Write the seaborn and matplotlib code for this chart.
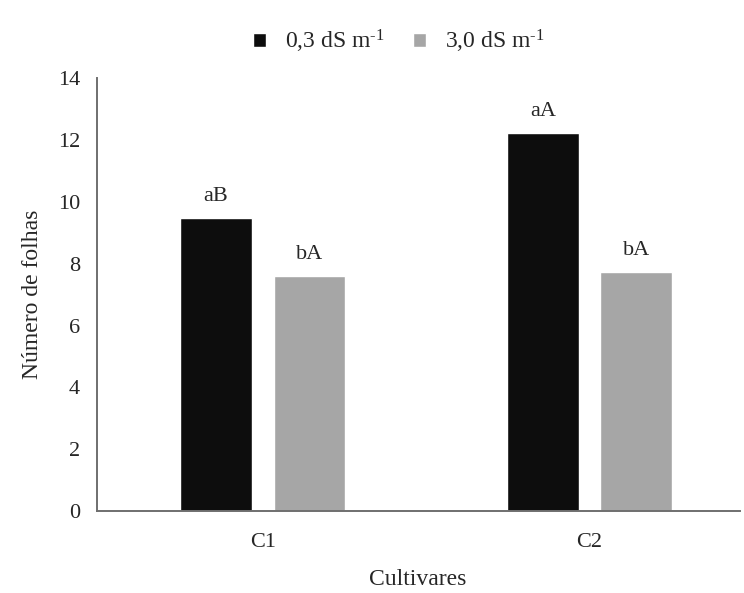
import pandas as pd
import numpy as np
import matplotlib
matplotlib.use("Agg")
import matplotlib.pyplot as plt
import seaborn as sns

# data
cultivares = ["C1", "C2"]
salinidade = ["0,3 dS m$^{\\text{-1}}$", "3,0 dS m$^{\\text{-1}}$"]
folhas_03 = [9.47, 12.22]
folhas_30 = [7.6, 7.73]
letras_03 = ["aB", "aA"]
letras_30 = ["bA", "bA"]

df = pd.DataFrame({
    "Cultivares": cultivares * 2,
    "Salinidade": [salinidade[0]] * 2 + [salinidade[1]] * 2,
    "Folhas": folhas_03 + folhas_30,
    "Letra": letras_03 + letras_30,
})

sns.set_style("white")
plt.rcParams["font.family"] = ["Liberation Serif", "DejaVu Serif"]
plt.rcParams["mathtext.fontset"] = "custom"
plt.rcParams["mathtext.rm"] = "Liberation Serif"
plt.rcParams["mathtext.it"] = "Liberation Serif:italic"

fig = plt.figure(figsize=(7.44, 5.93), dpi=100)
ax = fig.add_axes([0.130, 0.138, 0.864, 0.730])

sns.barplot(data=df, x="Cultivares", y="Folhas", hue="Salinidade",
            palette=["#0d0d0d", "#a6a6a6"], width=0.572, ax=ax,
            errorbar=None, legend=True)

# leave a small gap between the two bars of each group
for p in ax.patches:
    w = p.get_width()
    if w > 0:
        new_w = 0.22
        p.set_x(p.get_x() + (w - new_w) / 2)
        p.set_width(new_w)

# letters above the bars
for c, letras in zip(ax.containers, [letras_03, letras_30]):
    for p, txt in zip(c, letras):
        ax.annotate(txt, (p.get_x() + p.get_width() / 2, p.get_height()),
                    xytext=(0, 9), textcoords="offset points",
                    ha="center", va="bottom", fontsize=16)

ax.set_ylim(0, 14)
ax.set_yticks(range(0, 15, 2))
ax.set_xlim(-0.508, 1.459)
ax.set_ylabel("Número de folhas", fontsize=17, labelpad=11)
ax.set_xlabel("Cultivares", fontsize=17, labelpad=12)
ax.tick_params(axis="y", labelsize=16, length=0, pad=12)
ax.tick_params(axis="x", labelsize=16, length=0, pad=16)
sns.despine(ax=ax)
for s in ["left", "bottom"]:
    ax.spines[s].set_color("#6f6f6f")
    ax.spines[s].set_linewidth(1.4)

ax.legend(title=None, loc="lower center", bbox_to_anchor=(0.47, 1.005),
          ncol=2, frameon=False, fontsize=17, handlelength=0.55,
          handleheight=0.55, handletextpad=0.8, columnspacing=1.2)

plt.savefig("out.png", dpi=100)
